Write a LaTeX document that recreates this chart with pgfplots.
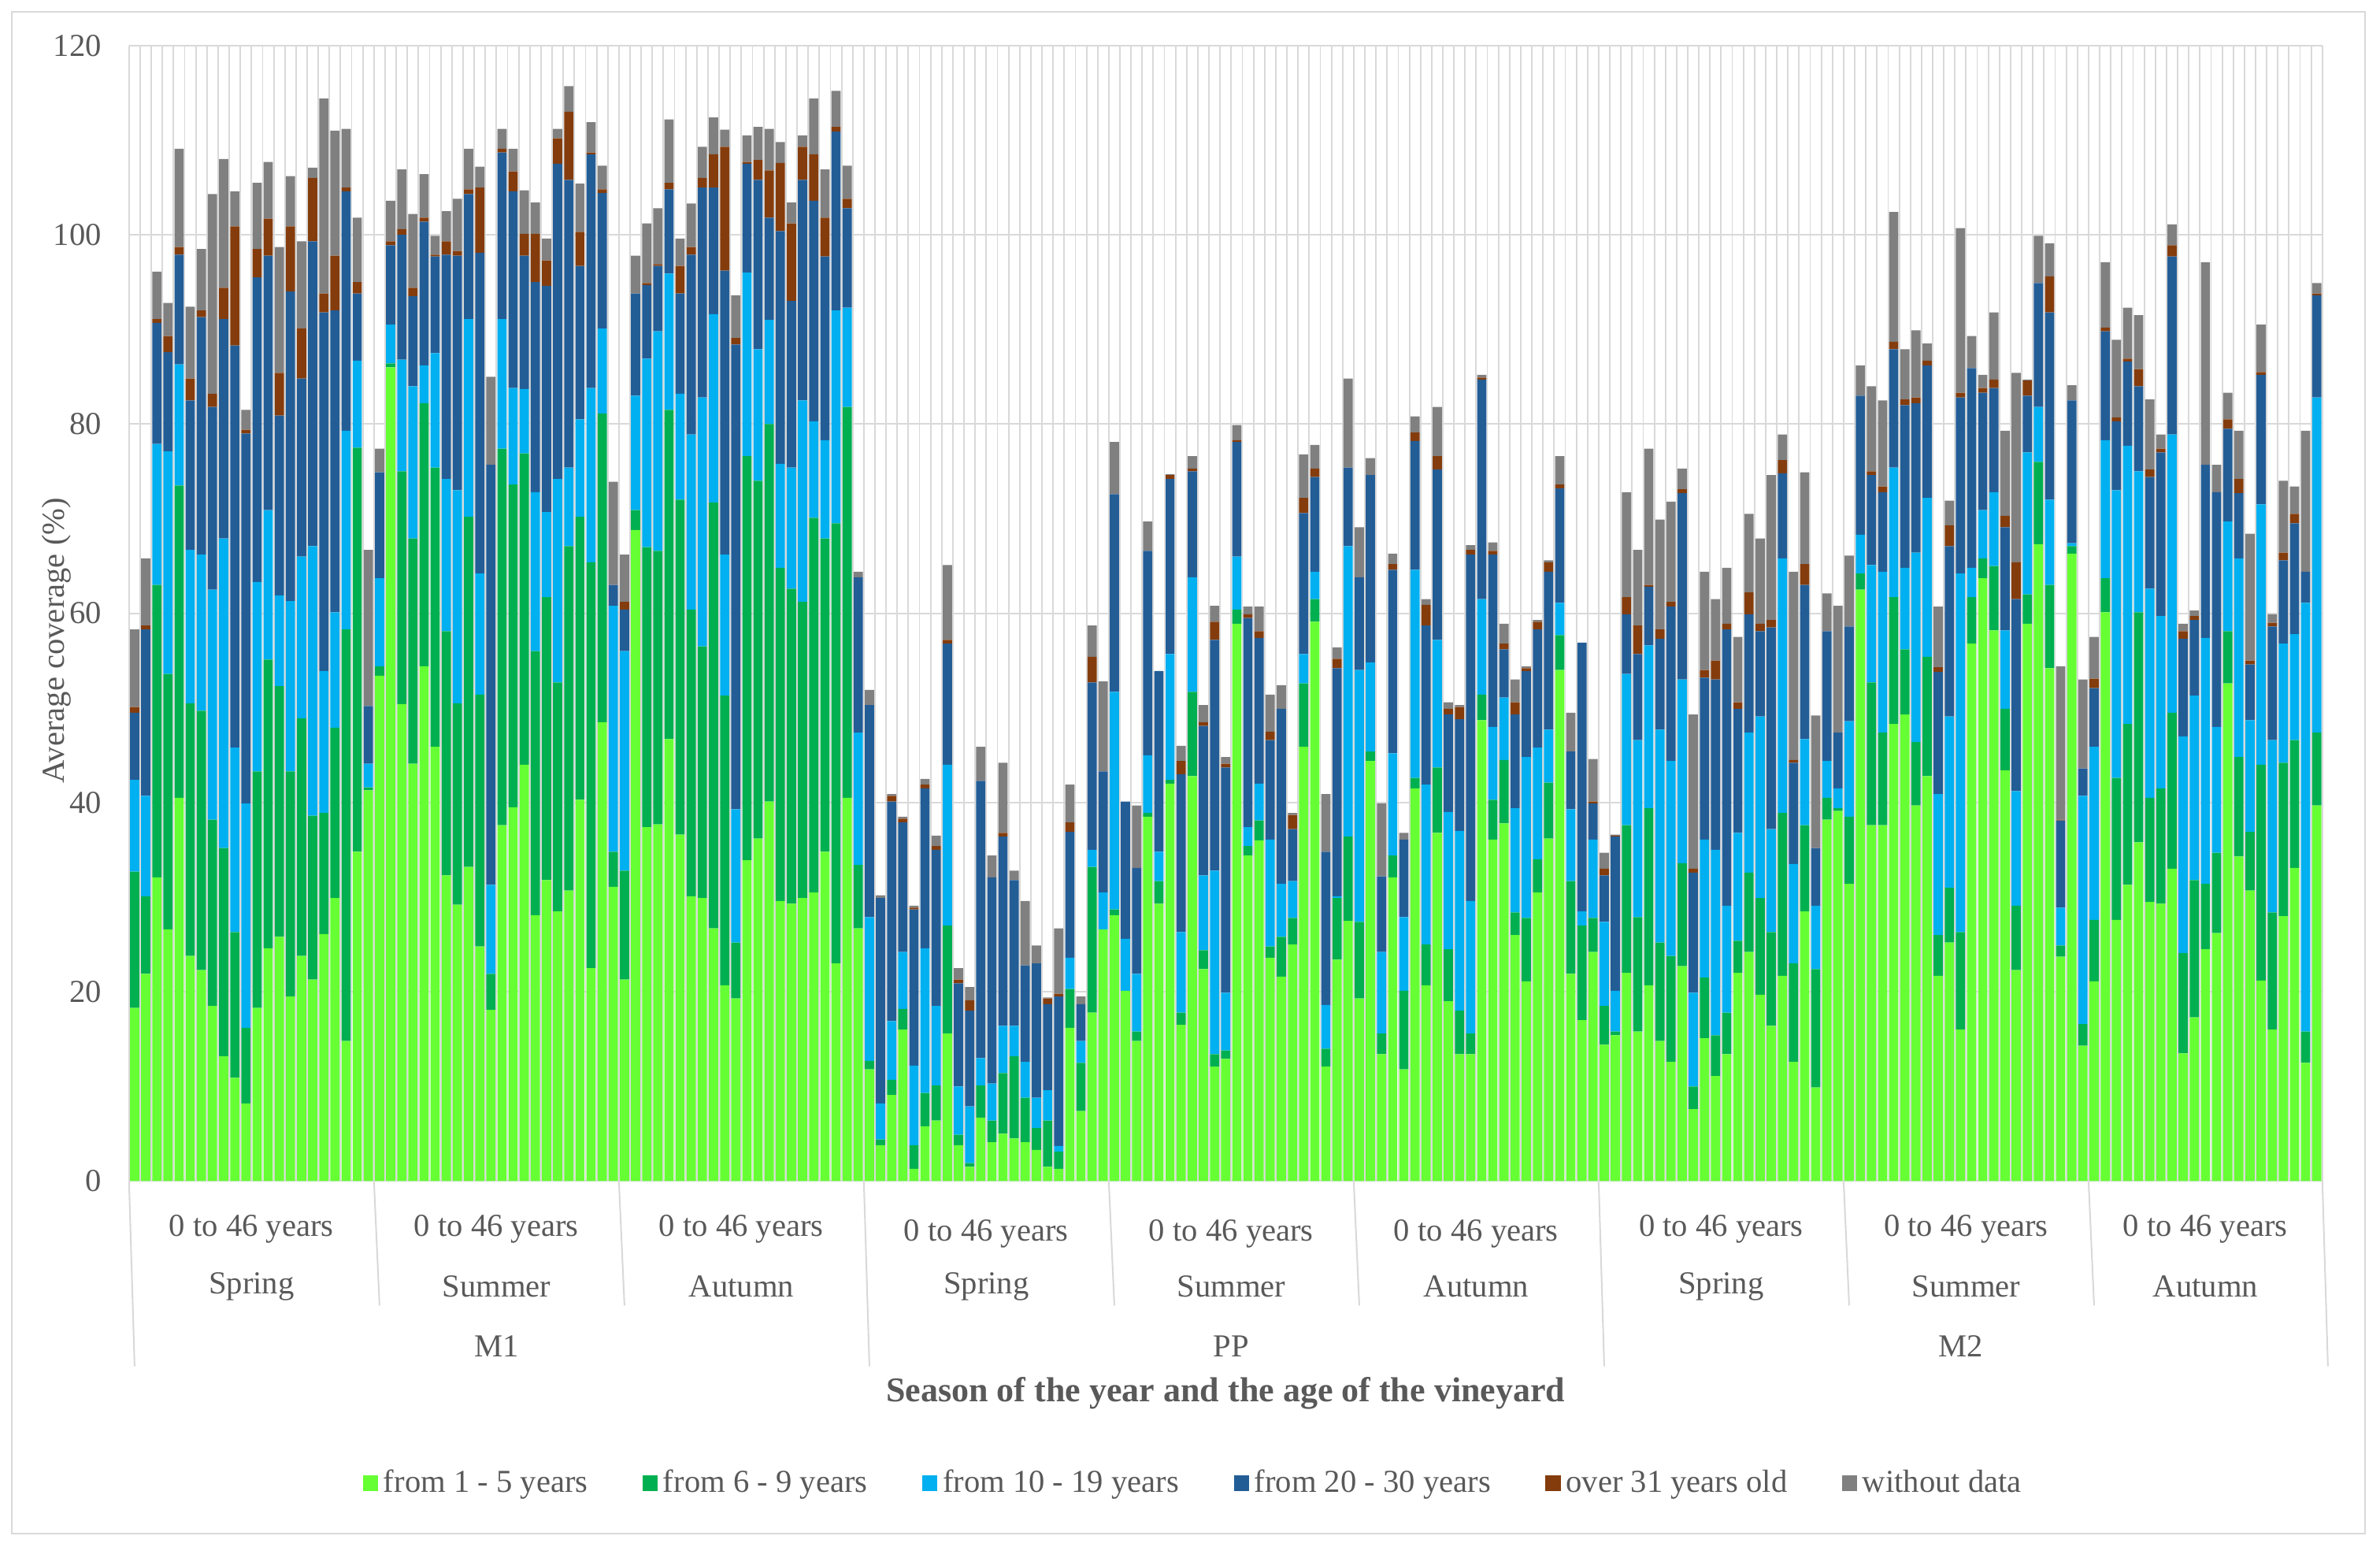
\documentclass[border=0pt]{standalone}
\usepackage{fontspec}
\setmainfont{Liberation Serif}
\usepackage{pgfplots}
\usepackage{pgfplotstable}
\pgfplotsset{compat=1.18}
\definecolor{cA}{HTML}{66FF33}
\definecolor{cB}{HTML}{00B050}
\definecolor{cC}{HTML}{00B0F0}
\definecolor{cD}{HTML}{235D96}
\definecolor{cE}{HTML}{843C0C}
\definecolor{cF}{HTML}{808080}
\definecolor{txt}{HTML}{595959}
\definecolor{grd}{HTML}{D9D9D9}

% M1 Spring
\pgfplotstableread{
g1 g2 lb db br gr
18.3 14.4 9.7 7.1 0.6 8.2
21.9 8.2 10.6 17.6 0.4 7.1
32.1 30.9 14.9 12.8 0.4 5.0
26.6 27.0 23.5 10.5 1.7 3.5
40.5 33.0 12.8 11.6 0.8 10.4
23.8 26.7 16.2 15.8 2.3 7.6
22.3 27.4 16.5 25.1 0.7 6.5
18.5 19.7 24.3 19.3 1.4 21.1
13.2 22.0 32.7 23.2 3.3 13.6
10.9 15.4 19.5 42.5 12.6 3.7
8.2 8.0 23.7 39.1 0.4 2.1
18.3 25.0 20.0 32.2 3.0 7.0
24.6 30.5 15.8 26.9 3.9 6.0
25.8 26.5 9.6 19.0 4.5 13.3
19.5 23.8 18.0 32.7 6.9 5.3
23.8 25.1 17.1 18.8 5.3 9.2
21.3 17.3 28.5 32.2 6.7 1.1
26.1 12.8 15.0 37.9 2.0 20.6
29.9 18.0 12.2 31.9 5.8 13.2
14.8 43.5 21.0 25.3 0.4 6.2
34.8 42.7 9.2 7.1 1.2 6.8
41.3 0.3 2.5 6.1 0 16.5
}\tA
% M1 Summer
\pgfplotstableread{
g1 g2 lb db br gr
53.4 1.0 9.3 11.2 0 2.5
86.0 0.4 4.1 8.4 0.4 4.3
50.4 24.6 11.8 13.2 0.6 6.3
44.1 23.8 16.1 9.5 0.9 7.8
54.4 27.8 4.0 15.2 0.4 4.6
45.9 29.5 12.1 10.2 0.2 2.0
32.3 25.8 16.1 23.7 1.4 3.2
29.2 21.3 22.5 24.8 0.5 5.5
33.2 37.0 20.9 13.2 0.5 4.3
24.8 26.6 12.8 33.9 6.9 2.2
18.1 3.8 9.4 44.4 0 9.3
37.6 39.8 13.7 17.6 0.4 2.1
39.5 34.1 10.2 20.8 2.1 2.4
44.0 32.9 6.8 14.1 2.3 4.6
28.1 27.9 16.8 22.2 5.1 3.3
31.8 29.9 9.0 23.9 2.7 2.3
28.5 24.2 21.5 33.3 2.7 1.0
30.7 36.4 8.3 30.4 7.2 2.7
40.3 29.9 10.3 16.2 3.6 5.1
22.5 42.9 18.4 24.7 0.2 3.2
48.5 32.6 9.0 14.3 0.4 2.5
31.1 3.7 26.0 2.2 0 10.9
}\tB
% M1 Autumn
\pgfplotstableread{
g1 g2 lb db br gr
21.3 11.5 23.2 4.4 0.8 5.0
68.8 2.1 12.1 10.8 0 4.0
37.4 29.6 19.9 7.8 0.2 6.3
37.7 28.9 23.2 6.9 0.2 5.9
46.7 34.8 14.4 8.9 0.7 6.7
36.6 35.4 11.2 10.6 2.9 2.9
30.1 30.3 18.5 19.0 0.8 4.6
29.9 26.6 26.3 22.2 1.0 3.3
26.7 45.0 19.9 13.4 3.5 3.9
20.7 30.6 14.9 30.0 13.1 1.8
19.3 5.9 14.1 49.1 0.7 4.5
33.9 42.7 19.4 11.5 0.2 2.8
36.2 37.8 13.9 17.9 2.1 3.5
40.1 39.9 11.0 10.8 5.0 4.4
29.6 35.2 11.0 24.6 7.2 2.2
29.3 33.3 12.8 17.6 8.2 2.2
29.9 31.3 21.3 23.3 3.5 1.2
30.5 39.6 10.2 23.3 4.9 5.9
34.8 33.1 10.4 19.4 4.1 5.1
23.0 46.5 22.5 18.9 0.5 3.8
40.5 41.3 10.5 10.5 1.0 3.5
26.7 6.7 14.0 16.4 0 0.6
}\tC
% PP Spring
\pgfplotstableread{
g1 g2 lb db br gr
11.8 0.9 15.2 22.4 0 1.6
3.8 0.6 3.8 21.7 0 0.3
9.1 1.6 6.2 23.2 0.6 0.2
16.0 2.2 6.0 13.7 0.4 0.2
1.3 2.5 8.4 16.5 0.2 0.2
5.8 3.5 15.3 16.9 0.4 0.6
6.4 3.7 8.4 16.5 0.4 1.1
15.6 11.4 17.0 12.8 0.4 7.9
3.8 1.1 5.1 10.9 0.4 1.2
1.5 0.4 6.0 10.1 1.1 1.4
6.7 3.4 2.9 29.3 0 3.6
4.1 2.3 3.9 21.8 0 2.3
5.0 6.4 5.0 20.0 0.4 7.4
4.5 8.7 3.2 15.4 0 1.0
4.1 4.7 3.8 10.2 0 6.8
3.3 2.3 3.2 14.2 0 1.9
1.5 4.9 3.2 9.1 0.6 0.1
1.3 1.8 0.6 15.8 0.3 6.9
16.2 4.1 3.3 13.3 1.0 4.0
7.4 5.1 2.3 3.9 0 0.8
17.8 15.4 1.8 17.7 2.7 3.3
26.6 0 3.9 12.8 0 9.5
}\tD
% PP Summer
\pgfplotstableread{
g1 g2 lb db br gr
28.1 0.6 23.0 20.9 0 5.5
20.1 0 5.5 14.5 0 0
14.8 1.0 6.1 11.2 0 6.6
38.5 0.4 6.1 21.6 0 3.1
29.3 2.4 3.1 19.1 0 0
42.0 0.4 13.3 18.5 0.4 0.1
16.5 1.3 8.5 16.7 1.4 1.6
42.8 8.9 12.1 11.2 0.3 1.3
22.4 2.0 7.9 15.8 0.4 1.8
12.1 1.3 19.4 24.4 1.9 1.7
12.9 0.9 6.1 23.8 0.4 0.7
58.9 1.5 5.6 12.1 0.2 1.6
34.4 1.0 2.0 22.1 0.4 0.8
36.0 2.1 3.9 15.4 0.7 2.6
23.6 1.2 11.3 10.5 0.9 3.9
21.6 4.2 5.6 18.5 0 2.5
25.0 2.8 3.9 5.5 1.5 0.2
45.9 6.7 3.1 14.9 1.6 4.6
59.1 2.4 2.9 10.0 0.9 2.5
12.1 1.9 4.6 16.2 0 6.1
23.4 6.5 0.2 24.1 1.0 1.2
27.5 8.9 30.7 8.3 0 9.4
}\tE
% PP Autumn
\pgfplotstableread{
g1 g2 lb db br gr
19.3 8.1 26.6 9.8 0 5.3
44.4 1.0 9.4 19.8 0 1.8
13.4 2.2 8.6 8.0 0 7.7
32.1 2.3 10.8 19.4 0.6 1.1
11.8 8.3 7.8 8.2 0 0.7
41.5 1.1 22.0 13.6 0.9 1.7
20.7 4.3 16.9 16.8 2.2 0.6
36.8 6.9 13.5 18.0 1.4 5.2
19.0 5.5 14.5 10.3 0.6 0.7
13.4 4.6 19.0 11.8 1.3 0.2
13.4 2.2 14.0 36.6 0.5 0.5
48.7 2.7 10.1 23.2 0.2 0.3
36.1 4.2 7.7 18.2 0.4 0.9
37.8 6.7 6.6 5.1 0.6 2.1
26.0 2.4 11.0 9.9 1.3 2.4
21.1 6.7 17.0 9.1 0.3 0.2
30.5 3.5 11.8 12.5 0.8 0.2
36.2 5.9 5.6 16.7 1.0 0.2
54.0 3.7 3.4 12.1 0.4 3.0
21.9 9.8 7.6 6.1 0 4.1
17.0 10.0 1.5 28.4 0 0
24.2 3.6 8.3 3.8 0.2 4.5
}\tF
% M2 Spring
\pgfplotstableread{
g1 g2 lb db br gr
14.4 4.1 8.9 4.9 0.7 1.7
15.4 0.4 4.3 16.3 0.1 0.1
22.0 15.6 16.0 6.3 1.8 11.1
15.8 12.1 18.7 9.1 3.0 8.0
20.7 18.7 17.2 6.2 0.2 14.4
14.8 10.4 22.5 9.6 1.0 11.6
12.6 11.2 20.6 16.3 0.5 10.6
22.7 10.9 19.4 19.7 0.4 2.2
7.6 2.4 9.9 12.7 0.4 16.3
15.1 6.4 14.6 17.1 0.8 10.4
11.1 4.3 19.6 18.0 2.0 6.5
13.4 4.4 11.3 29.2 0.6 5.9
22.0 3.4 11.4 13.1 0.7 6.9
24.2 8.4 14.8 12.5 2.3 8.3
19.7 10.2 19.2 9.0 0.8 9.0
16.4 9.9 10.9 21.3 0.8 15.3
21.7 17.2 26.9 9.0 1.4 2.7
12.6 10.4 10.5 10.7 0.3 19.9
28.5 9.1 9.1 16.3 2.2 9.7
9.9 12.5 6.7 6.1 0 14.0
38.2 2.3 3.9 13.7 0 4.0
39.1 0.3 2.1 5.9 0 13.4
}\tG
% M2 Summer
\pgfplotstableread{
g1 g2 lb db br gr
31.4 7.1 10.1 10.0 0 7.5
62.5 1.7 4.1 14.7 0 3.2
37.6 15.1 12.4 9.5 0.4 9.0
37.6 9.8 17.0 8.4 0.6 9.1
48.3 13.4 13.7 12.5 0.8 13.7
49.3 6.9 8.6 17.2 0.6 5.3
39.7 6.7 20.0 15.8 0.6 7.1
42.8 12.6 16.8 14.0 0.5 1.8
21.7 4.3 14.9 12.9 0.5 6.4
25.2 5.8 18.1 18.0 2.2 2.6
16.0 10.3 37.9 18.6 0.5 17.4
56.8 4.9 3.1 21.1 0 3.4
63.7 2.1 5.1 12.4 0.5 1.4
58.2 6.8 7.8 11.0 0.9 7.1
43.4 6.5 8.3 10.9 1.2 9.0
22.3 6.8 12.1 20.3 3.9 20.0
58.9 3.1 15.0 6.0 1.6 0.1
67.3 8.7 5.8 13.1 0 5.0
54.2 8.8 9.0 19.8 3.8 3.5
23.7 1.2 4.0 9.2 0.1 16.2
66.3 0.8 0.3 15.1 0 1.6
14.3 2.3 24.1 2.9 0 9.4
}\tH
% M2 Autumn
\pgfplotstableread{
g1 g2 lb db br gr
21.1 6.5 18.3 6.2 1.0 4.4
60.1 3.6 14.6 11.5 0.4 6.9
27.6 15.0 30.4 7.3 0.4 8.2
31.3 17.0 29.4 8.9 0.3 5.4
35.8 24.3 14.9 9.0 1.8 5.7
29.5 11.0 22.1 11.8 0.8 7.4
29.3 12.2 18.2 17.3 0.4 1.5
33.0 16.5 29.4 18.8 1.2 2.2
13.5 10.6 22.9 10.3 0.8 0.8
17.3 14.5 19.5 8.0 0.4 0.6
24.5 6.9 26.0 18.3 0 21.4
26.2 8.5 13.3 24.8 0 2.9
52.6 5.5 11.6 9.8 1.0 2.8
34.3 10.5 21.0 6.9 1.5 5.1
30.7 6.2 11.8 5.9 0.4 13.4
21.2 22.8 27.5 13.7 0.3 5.0
16.0 12.4 18.2 12.0 0.4 0.9
28.0 16.2 12.6 8.8 0.8 7.6
33.1 13.5 11.2 11.7 1.0 2.9
12.5 3.3 45.3 3.3 0 14.9
39.7 7.7 35.4 10.8 0.2 1.1
}\tI

\pgfplotstablevertcat{\tAll}{\tA}
\pgfplotstablevertcat{\tAll}{\tB}
\pgfplotstablevertcat{\tAll}{\tC}
\pgfplotstablevertcat{\tAll}{\tD}
\pgfplotstablevertcat{\tAll}{\tE}
\pgfplotstablevertcat{\tAll}{\tF}
\pgfplotstablevertcat{\tAll}{\tG}
\pgfplotstablevertcat{\tAll}{\tH}
\pgfplotstablevertcat{\tAll}{\tI}

\begin{document}
\begin{tikzpicture}[font=\fontsize{12}{14}\selectfont]
\begin{axis}[
  at={(0,0)}, anchor=south west,
  width=289mm, height=149.6mm, scale only axis,
  ybar stacked, bar width=0.83,
  xmin=-0.5, xmax=196.5, ymin=0, ymax=120,
  ytick={0,20,...,120},
  xtick={-0.5,0.5,...,196.5}, xticklabels={},
  major tick length=0pt,
  xmajorgrids, ymajorgrids,
  grid style={grd, line width=0.55pt},
  axis line style={draw=none},
  clip=false,
  /pgf/number format/assume math mode=true,
  yticklabel style={xshift=-2.4mm, text=txt},
  ylabel={Average coverage (\%)},
  every axis y label/.style={at={(axis description cs:0,0.476)}, xshift=-9.6mm, rotate=90, anchor=center, text=txt},
  legend columns=6,
  legend style={draw=none, fill=none, at={(axis description cs:0.486,-0.266)}, anchor=center, text=txt,
    /tikz/every even column/.append style={column sep=6.5mm}},
  legend image code/.code={\fill[#1] (0mm,-1mm) rectangle (2mm,1mm);},
]
\addplot[fill=cA, draw=none] table[x expr=\coordindex, y=g1]{\tAll};
\addplot[fill=cB, draw=none] table[x expr=\coordindex, y=g2]{\tAll};
\addplot[fill=cC, draw=none] table[x expr=\coordindex, y=lb]{\tAll};
\addplot[fill=cD, draw=none] table[x expr=\coordindex, y=db]{\tAll};
\addplot[fill=cE, draw=none] table[x expr=\coordindex, y=br]{\tAll};
\addplot[fill=cF, draw=none] table[x expr=\coordindex, y=gr]{\tAll};
\legend{from 1 - 5 years, from 6 - 9 years, from 10 - 19 years, from 20 - 30 years, over 31 years old, without data}

% axis line and separators
\draw[grd, line width=0.6pt] (axis cs:-0.5,0) -- (axis cs:196.5,0);
\draw[grd, line width=0.6pt] (axis cs:-0.5,0) -- ++(0,-24.4mm);
\draw[grd, line width=0.6pt] (axis cs:21.5,0) -- ++(0,-16.4mm);
\draw[grd, line width=0.6pt] (axis cs:43.5,0) -- ++(0,-16.4mm);
\draw[grd, line width=0.6pt] (axis cs:65.5,0) -- ++(0,-24.4mm);
\draw[grd, line width=0.6pt] (axis cs:87.5,0) -- ++(0,-16.4mm);
\draw[grd, line width=0.6pt] (axis cs:109.5,0) -- ++(0,-16.4mm);
\draw[grd, line width=0.6pt] (axis cs:131.5,0) -- ++(0,-24.4mm);
\draw[grd, line width=0.6pt] (axis cs:153.5,0) -- ++(0,-16.4mm);
\draw[grd, line width=0.6pt] (axis cs:175.5,0) -- ++(0,-16.4mm);
\draw[grd, line width=0.6pt] (axis cs:196.5,0) -- ++(0,-24.4mm);

% level 1
\node[text=txt] at ([yshift=-6.3mm]axis cs:10.5,0) {0 to 46 years};
\node[text=txt] at ([yshift=-6.3mm]axis cs:32.5,0) {0 to 46 years};
\node[text=txt] at ([yshift=-6.3mm]axis cs:54.5,0) {0 to 46 years};
\node[text=txt] at ([yshift=-6.9mm]axis cs:76.5,0) {0 to 46 years};
\node[text=txt] at ([yshift=-6.9mm]axis cs:98.5,0) {0 to 46 years};
\node[text=txt] at ([yshift=-6.9mm]axis cs:120.5,0) {0 to 46 years};
\node[text=txt] at ([yshift=-6.3mm]axis cs:142.5,0) {0 to 46 years};
\node[text=txt] at ([yshift=-6.3mm]axis cs:164.5,0) {0 to 46 years};
\node[text=txt] at ([yshift=-6.3mm]axis cs:186,0) {0 to 46 years};
% level 2
\node[text=txt] at ([yshift=-13.9mm]axis cs:10.5,0) {Spring};
\node[text=txt] at ([yshift=-13.9mm]axis cs:32.5,0) {Summer};
\node[text=txt] at ([yshift=-13.9mm]axis cs:54.5,0) {Autumn};
\node[text=txt] at ([yshift=-13.9mm]axis cs:76.5,0) {Spring};
\node[text=txt] at ([yshift=-13.9mm]axis cs:98.5,0) {Summer};
\node[text=txt] at ([yshift=-13.9mm]axis cs:120.5,0) {Autumn};
\node[text=txt] at ([yshift=-13.9mm]axis cs:142.5,0) {Spring};
\node[text=txt] at ([yshift=-13.9mm]axis cs:164.5,0) {Summer};
\node[text=txt] at ([yshift=-13.9mm]axis cs:186,0) {Autumn};
% level 3
\node[text=txt] at ([yshift=-21.8mm]axis cs:32.5,0) {M1};
\node[text=txt] at ([yshift=-21.8mm]axis cs:98.5,0) {PP};
\node[text=txt] at ([yshift=-21.8mm]axis cs:164,0) {M2};
% title
\node[text=txt, font=\fontsize{13}{15}\selectfont\bfseries] at ([yshift=-28mm]axis cs:98,0) {Season of the year and the age of the vineyard};
\end{axis}
\draw[grd, line width=0.6pt] (-15.4mm,-46.4mm) rectangle (294.6mm,154mm);
\pgfresetboundingbox
\path (-17mm,-48.2mm) rectangle (296.6mm,155.6mm);
\end{tikzpicture}
\end{document}
